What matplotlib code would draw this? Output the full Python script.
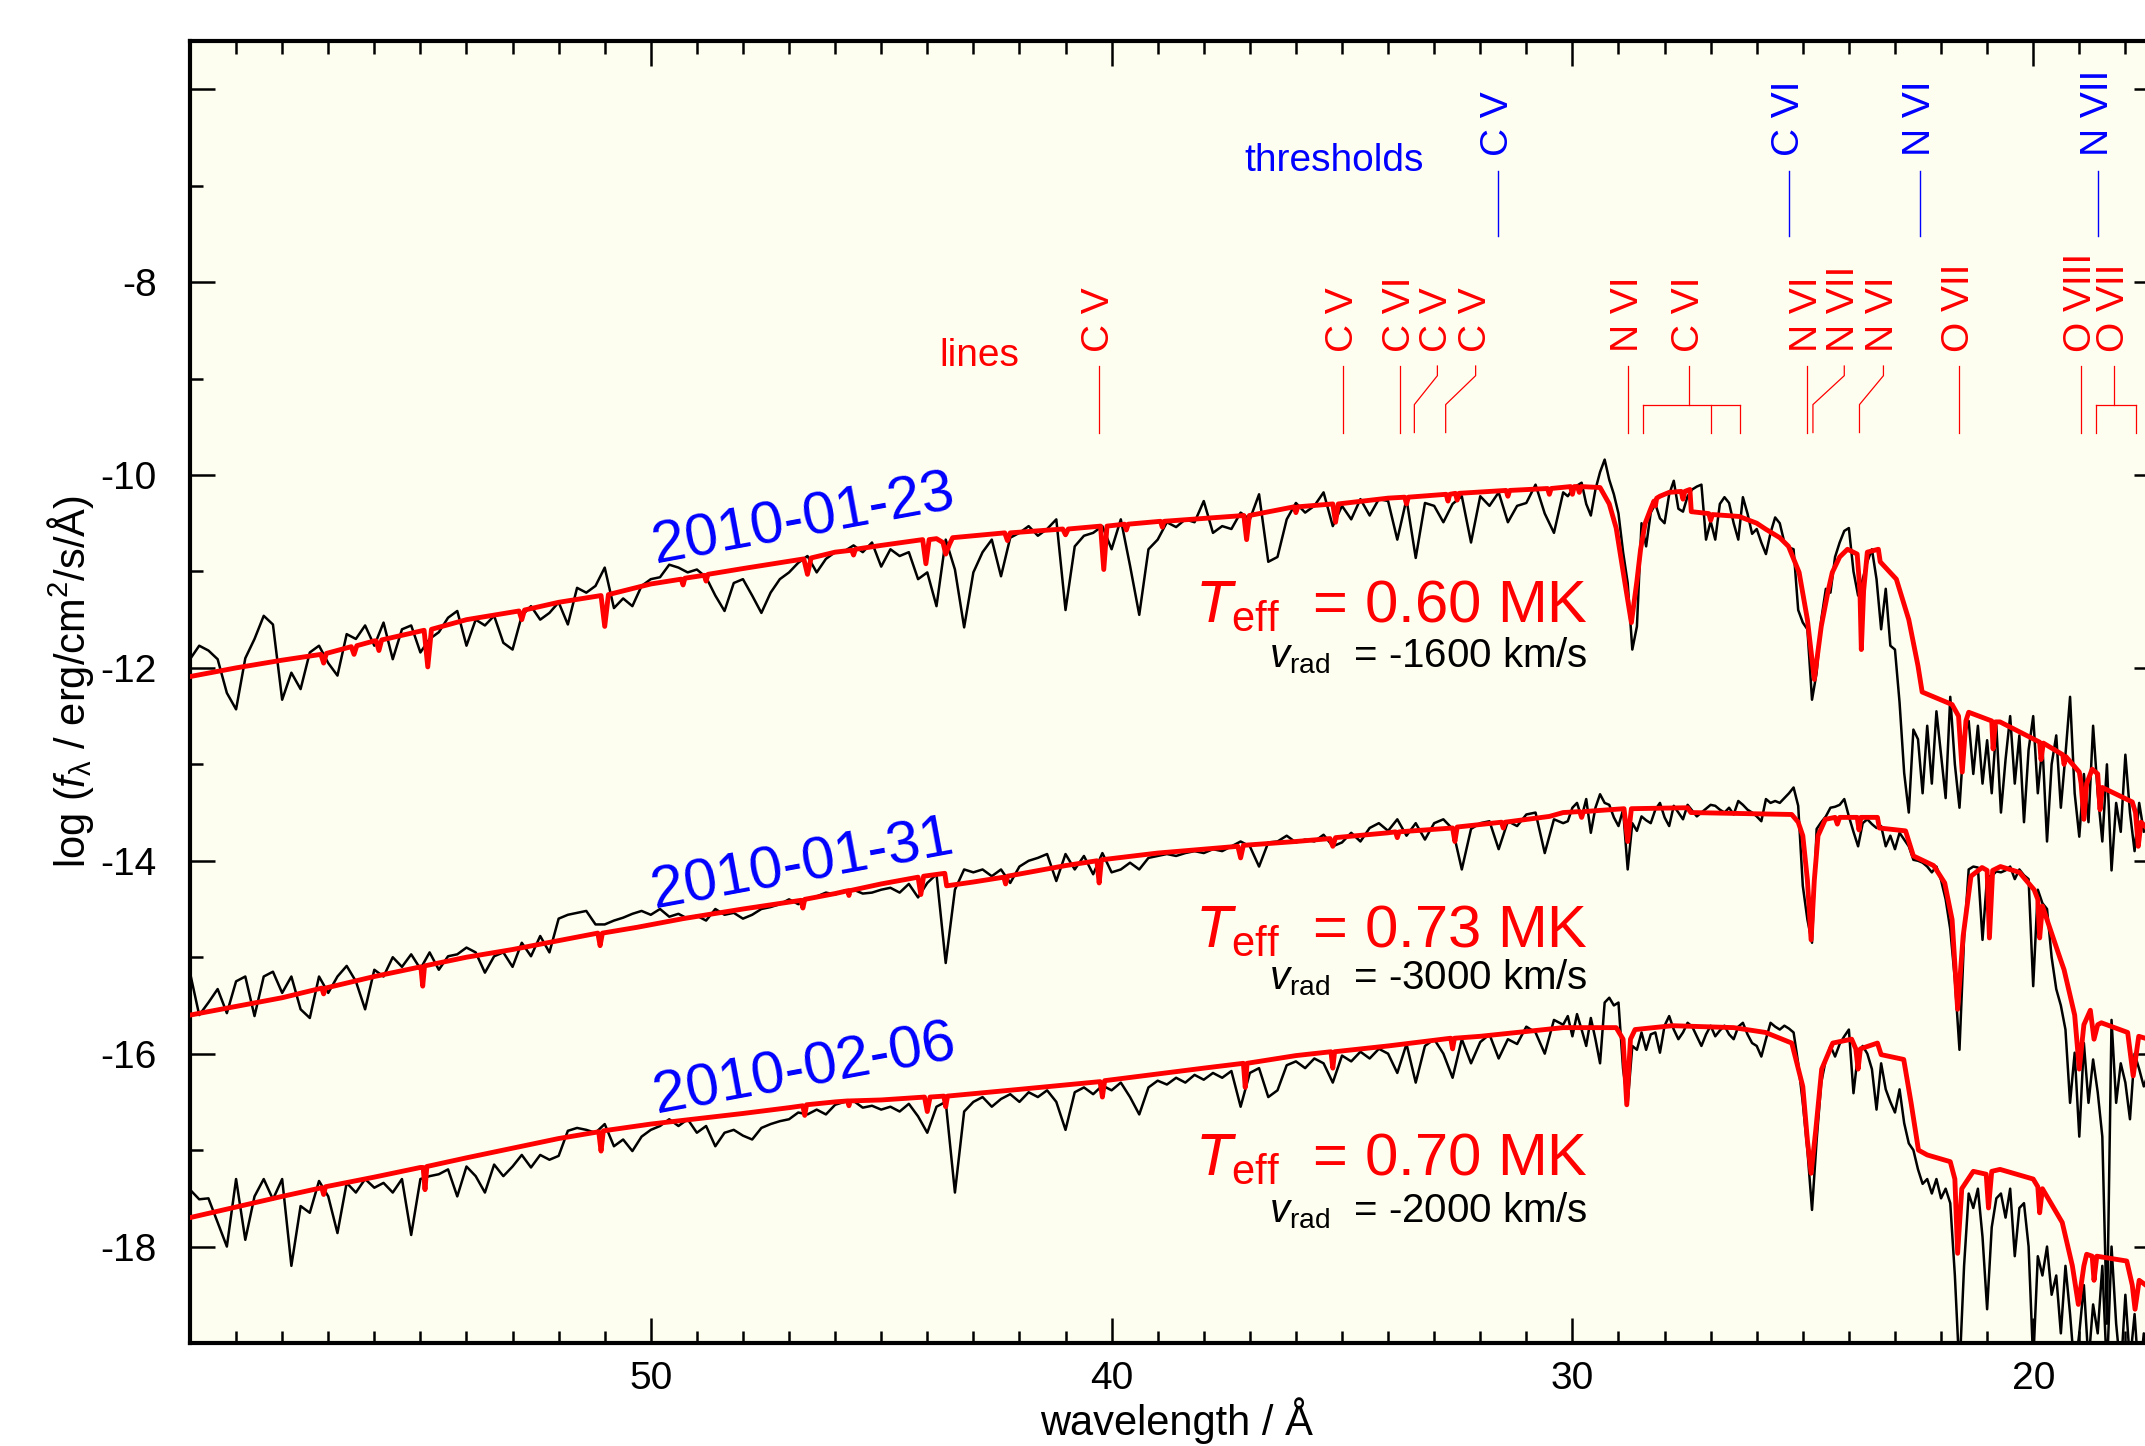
import numpy as np
import matplotlib
matplotlib.use("Agg")
import matplotlib.pyplot as plt
from matplotlib.ticker import MultipleLocator

# observed spectra, grid A: 60.0 -> 30.2 A (0.2 A steps), grid B: 30.1 -> 17.5 A (0.1 A steps)
obs1_a = [
    -11.91, -11.77, -11.82, -11.91, -12.26, -12.43, -11.9, -11.7, -11.46, -11.55,
    -12.33, -12.05, -12.22, -11.84, -11.77, -11.95, -12.08, -11.65, -11.7, -11.56,
    -11.77, -11.53, -11.91, -11.6, -11.56, -11.84, -11.7, -11.63, -11.48, -11.41,
    -11.77, -11.5, -11.56, -11.46, -11.74, -11.81, -11.46, -11.36, -11.5, -11.43,
    -11.32, -11.55, -11.17, -11.22, -11.15, -10.96, -11.38, -11.28, -11.36, -11.15,
    -11.08, -11.06, -10.93, -10.96, -11.01, -10.98, -11.06, -11.25, -11.41, -11.12,
    -11.08, -11.25, -11.43, -11.22, -11.08, -11.01, -10.91, -10.84, -11.01, -10.87,
    -10.8, -10.79, -10.73, -10.8, -10.7, -10.95, -10.77, -10.84, -10.8, -11.08,
    -11.01, -11.36, -10.67, -10.98, -11.58, -11.01, -10.8, -10.67, -11.05, -10.65,
    -10.6, -10.53, -10.63, -10.56, -10.46, -11.4, -10.74, -10.63, -10.6, -10.53,
    -10.77, -10.46, -10.94, -11.45, -10.77, -10.67, -10.49, -10.54, -10.46, -10.49,
    -10.27, -10.6, -10.53, -10.56, -10.39, -10.46, -10.2, -10.9, -10.85, -10.46,
    -10.29, -10.39, -10.32, -10.18, -10.53, -10.32, -10.46, -10.25, -10.42, -10.25,
    -10.27, -10.67, -10.25, -10.86, -10.29, -10.32, -10.49, -10.3, -10.22, -10.7,
    -10.22, -10.32, -10.18, -10.49, -10.32, -10.29, -10.1, -10.4, -10.6, -10.18,
]
obs1_b = [
    -10.22, -10.15, -10.11, -10.08, -10.3, -10.42, -10.15, -9.97, -9.84, -10.05,
    -10.2, -10.4, -10.8, -11.12, -11.81, -11.57, -10.5, -10.74, -10.39, -10.3,
    -10.45, -10.5, -10.2, -10.06, -10.35, -10.38, -10.22, -10.15, -10.12, -10.1,
    -10.67, -10.48, -10.67, -10.3, -10.23, -10.29, -10.5, -10.67, -10.23, -10.4,
    -10.61, -10.56, -10.7, -10.82, -10.6, -10.44, -10.5, -10.7, -10.75, -10.77,
    -11.4, -11.53, -11.6, -12.33, -12.05, -11.5, -11.18, -11.22, -10.85, -10.7,
    -10.58, -10.55, -11.0, -11.25, -11.08, -10.9, -10.77, -11.08, -11.6, -11.18,
    -11.77, -11.81, -12.36, -13.09, -13.5, -12.64, -12.74, -13.3, -12.6, -13.2,
    -12.45, -12.9, -13.35, -12.3, -13.0, -13.45, -12.7, -12.55, -13.1, -12.6,
    -13.2, -12.75, -13.3, -12.6, -13.5, -12.95, -12.5, -13.2, -12.7, -13.6,
    -12.85, -12.5, -13.3, -12.8, -13.8, -13.0, -12.7, -13.45, -12.9, -12.3,
    -13.3, -13.75, -13.1, -13.6, -12.6, -13.3, -13.8, -13.0, -14.1, -13.4,
    -13.7, -12.9, -13.5, -13.9, -13.4, -13.7, -13.5,
]
obs2_a = [
    -15.16, -15.6, -15.47, -15.33, -15.58, -15.25, -15.2, -15.61, -15.2, -15.15,
    -15.37, -15.2, -15.54, -15.63, -15.2, -15.37, -15.2, -15.09, -15.25, -15.54,
    -15.13, -15.2, -15.0, -15.1, -14.97, -15.12, -14.95, -15.13, -14.99, -14.97,
    -14.9, -14.95, -15.16, -14.99, -14.95, -15.1, -14.85, -14.99, -14.78, -14.95,
    -14.6, -14.56, -14.54, -14.52, -14.66, -14.66, -14.62, -14.59, -14.55, -14.52,
    -14.56, -14.5, -14.58, -14.55, -14.6, -14.57, -14.62, -14.5, -14.56, -14.54,
    -14.6, -14.56, -14.5, -14.48, -14.45, -14.4, -14.45, -14.4, -14.37, -14.33,
    -14.35, -14.31, -14.3, -14.34, -14.33, -14.3, -14.28, -14.33, -14.24, -14.38,
    -14.23, -14.14, -15.06, -14.3, -14.09, -14.12, -14.09, -14.16, -14.09, -14.23,
    -14.06, -14.0, -13.97, -13.93, -14.21, -13.93, -14.09, -13.95, -14.14, -13.92,
    -14.12, -14.09, -14.02, -14.09, -13.97, -13.95, -13.93, -13.95, -13.92, -13.9,
    -13.92, -13.88, -13.9, -13.85, -13.8, -13.85, -14.06, -13.81, -13.8, -13.74,
    -13.81, -13.78, -13.8, -13.73, -13.85, -13.81, -13.71, -13.8, -13.66, -13.61,
    -13.69, -13.57, -13.74, -13.61, -13.78, -13.61, -13.57, -13.67, -14.09, -13.67,
    -13.61, -13.59, -13.88, -13.59, -13.64, -13.52, -13.5, -13.92, -13.57, -13.61,
]
obs2_b = [
    -13.59, -13.45, -13.4, -13.55, -13.36, -13.71, -13.45, -13.31, -13.4, -13.42,
    -13.55, -13.64, -13.47, -14.09, -13.61, -13.69, -13.54, -13.58, -13.61, -13.47,
    -13.4, -13.55, -13.64, -13.43, -13.5, -13.57, -13.42, -13.48, -13.54, -13.5,
    -13.46, -13.42, -13.43, -13.47, -13.5, -13.45, -13.52, -13.38, -13.42, -13.47,
    -13.5, -13.54, -13.59, -13.36, -13.4, -13.38, -13.4, -13.35, -13.3, -13.24,
    -13.43, -14.26, -14.61, -14.85, -13.67, -13.6, -13.54, -13.45, -13.44, -13.42,
    -13.36, -13.54, -13.7, -13.85, -13.61, -13.57, -13.62, -13.66, -13.64, -13.85,
    -13.74, -13.88, -13.71, -13.78, -13.85, -13.99, -14.0, -14.02, -14.06, -14.12,
    -14.06, -14.2, -14.4, -14.71, -15.23, -15.96, -14.8, -14.09, -14.06, -14.07,
    -14.82, -14.16, -14.16, -14.11, -14.12, -14.1, -14.06, -14.19, -14.09, -14.15,
    -14.19, -15.3, -14.3, -14.44, -14.5, -15.0, -15.33, -15.5, -15.75, -16.51,
    -15.99, -16.86, -15.89, -16.51, -16.06, -16.4, -16.86, -18.8, -15.65, -16.51,
    -16.1, -16.3, -16.68, -16.0, -16.16, -16.34, -16.2,
]
obs3_a = [
    -17.41, -17.51, -17.5, -17.75, -18.0, -17.3, -17.93, -17.48, -17.3, -17.51,
    -17.3, -18.2, -17.58, -17.65, -17.32, -17.48, -17.86, -17.34, -17.44, -17.3,
    -17.39, -17.34, -17.44, -17.3, -17.88, -17.3, -17.27, -17.25, -17.2, -17.48,
    -17.17, -17.27, -17.44, -17.15, -17.27, -17.17, -17.05, -17.18, -17.05, -17.1,
    -17.06, -16.8, -16.77, -16.79, -16.82, -16.73, -16.96, -16.89, -17.01, -16.86,
    -16.79, -16.75, -16.68, -16.75, -16.68, -16.82, -16.75, -16.96, -16.82, -16.79,
    -16.85, -16.89, -16.77, -16.73, -16.7, -16.68, -16.61, -16.63, -16.58, -16.63,
    -16.53, -16.5, -16.49, -16.56, -16.54, -16.58, -16.55, -16.6, -16.52, -16.65,
    -16.82, -16.55, -16.5, -17.44, -16.6, -16.5, -16.45, -16.55, -16.47, -16.42,
    -16.5, -16.4, -16.45, -16.38, -16.5, -16.79, -16.4, -16.35, -16.42, -16.33,
    -16.38, -16.3, -16.45, -16.63, -16.35, -16.28, -16.32, -16.25, -16.3, -16.22,
    -16.27, -16.2, -16.25, -16.18, -16.55, -16.2, -16.15, -16.45, -16.38, -16.12,
    -16.08, -16.15, -16.05, -16.1, -16.3, -16.02, -16.08, -15.98, -16.05, -15.95,
    -16.0, -16.2, -15.9, -16.3, -15.92, -15.85, -16.0, -16.25, -15.85, -16.1,
    -15.88, -15.8, -16.05, -15.85, -15.9, -15.72, -15.78, -16.0, -15.65, -15.7,
]
obs3_b = [
    -15.61, -15.82, -15.59, -15.75, -15.92, -15.63, -15.85, -16.1, -15.47, -15.42,
    -15.5, -15.47, -16.16, -16.51, -15.92, -15.96, -15.78, -15.96, -15.8, -15.78,
    -15.99, -15.71, -15.61, -15.75, -15.85, -15.78, -15.68, -15.72, -15.82, -15.92,
    -15.8, -15.71, -15.82, -15.76, -15.71, -15.8, -15.85, -15.72, -15.68, -15.8,
    -15.89, -15.92, -16.03, -15.85, -15.68, -15.72, -15.75, -15.71, -15.74, -15.78,
    -16.1, -16.51, -17.0, -17.62, -16.9, -16.3, -16.06, -15.92, -16.03, -15.9,
    -15.82, -15.75, -16.41, -15.99, -15.92, -16.0, -16.16, -16.58, -16.1, -16.37,
    -16.5, -16.61, -16.37, -16.72, -16.93, -17.0, -17.2, -17.35, -17.3, -17.45,
    -17.3, -17.5, -17.4, -17.55, -18.3, -19.3, -18.2, -17.45, -17.6, -17.4,
    -17.9, -18.65, -17.8, -17.5, -17.45, -17.7, -17.4, -18.1, -17.6, -17.55,
    -18.0, -19.2, -18.1, -18.3, -18.0, -18.5, -18.3, -18.9, -18.2, -18.7,
    -19.3, -18.9, -18.4, -19.2, -18.6, -18.9, -18.2, -19.3, -18.0, -18.8,
    -19.3, -18.5, -19.2, -18.7, -19.4, -18.9, -19.2,
]

# model spectra (wavelength / log flux knots)
m1_wave = [60.0, 59.0, 58.0, 57.16, 57.1, 57.04, 56.5, 56.44, 56.38, 56.0, 55.96, 55.9, 55.84,
           54.92, 54.84, 54.76, 54.0, 52.86, 52.8, 52.74, 52.0, 51.08, 51.0, 50.92, 50.0,
           49.34, 49.3, 49.26, 48.84, 48.8, 48.76, 48.0, 46.68, 46.6, 46.52, 46.0, 45.64, 45.6,
           45.56, 45.0, 44.1, 44.03, 43.96, 43.8, 43.66, 43.6, 43.52, 43.45, 42.32, 42.26, 42.2,
           41.06, 41.0, 40.94, 40.24, 40.17, 40.1, 39.72, 39.68, 39.64, 38.94, 38.9, 38.86, 38.0,
           37.13, 37.07, 37.01, 36.04, 36.0, 35.96, 35.2, 35.14, 35.08, 34.0, 33.64, 33.6, 33.56,
           32.74, 32.7, 32.66, 32.54, 32.5, 32.46, 31.44, 31.4, 31.36, 30.54, 30.5, 30.46,
           30.04, 30.0, 29.96, 29.89, 29.85, 29.81, 29.4, 29.2, 29.05, 28.9, 28.72, 28.6, 28.52,
           28.42, 28.3, 28.23, 28.2, 28.17, 28.1, 27.9, 27.64, 27.6, 27.56, 27.45, 27.42, 27.04,
           27.0, 26.96, 26.38, 26.0, 25.81, 25.5, 25.31, 25.08, 24.9, 24.75, 24.6, 24.45, 24.36,
           24.2, 24.03, 23.82, 23.76, 23.73, 23.68, 23.6, 23.36, 23.32, 22.97, 22.7, 22.5, 22.41,
           21.76, 21.62, 21.54, 21.46, 21.4, 20.9, 20.87, 20.82, 20.72, 19.86, 19.83, 19.78,
           19.36, 19.33, 19.29, 19.0, 18.96, 18.9, 18.84, 18.72, 18.6, 18.55, 18.5, 17.85, 17.78,
           17.72, 17.66, 17.5]
m1_flux = [-12.09, -12.0, -11.92, -11.86, -11.95, -11.85, -11.78, -11.86, -11.77, -11.72, -11.72,
           -11.82, -11.71, -11.61, -11.99, -11.6, -11.5, -11.41, -11.5, -11.4, -11.32, -11.25,
           -11.57, -11.24, -11.13, -11.08, -11.14, -11.07, -11.04, -11.1, -11.03, -10.97, -10.87,
           -11.03, -10.86, -10.8, -10.78, -10.83, -10.77, -10.73, -10.67, -10.92, -10.67, -10.66,
           -10.7, -10.82, -10.72, -10.65, -10.6, -10.68, -10.6, -10.56, -10.62, -10.56, -10.53,
           -10.98, -10.53, -10.51, -10.57, -10.51, -10.48, -10.54, -10.48, -10.45, -10.42, -10.67,
           -10.42, -10.33, -10.39, -10.33, -10.3, -10.49, -10.3, -10.24, -10.23, -10.3, -10.23,
           -10.2, -10.27, -10.2, -10.19, -10.26, -10.19, -10.16, -10.22, -10.16, -10.14, -10.2,
           -10.14, -10.12, -10.2, -10.12, -10.12, -10.18, -10.12, -10.13, -10.3, -10.55, -11.0,
           -11.53, -11.1, -10.77, -10.5, -10.35, -10.27, -10.32, -10.24, -10.22, -10.18, -10.17,
           -10.25, -10.17, -10.15, -10.38, -10.4, -10.47, -10.41, -10.43, -10.5, -10.56, -10.65,
           -10.74, -11.01, -11.5, -12.12, -11.57, -11.2, -11.01, -10.85, -10.77, -10.82, -11.2,
           -11.81, -11.2, -10.8, -10.77, -10.9, -11.08, -11.5, -11.98, -12.25, -12.38, -12.5,
           -13.08, -12.55, -12.46, -12.55, -12.84, -12.56, -12.56, -12.77, -12.95, -12.78, -12.9,
           -13.0, -12.92, -13.08, -13.2, -13.57, -13.2, -13.05, -13.1, -13.47, -13.24, -13.39,
           -13.5, -13.85, -13.6, -13.68]

m2_wave = [60.0, 59.0, 58.0, 57.14, 57.1, 57.06, 56.0, 55.0, 54.99, 54.95, 54.91, 54.0, 53.0,
           52.24, 51.15, 51.1, 51.05, 50.3, 49.3, 48.0, 46.74, 46.7, 46.66, 46.0, 45.72, 45.7,
           45.68, 45.0, 44.2, 44.14, 44.08, 43.62, 43.58, 43.0, 42.34, 42.3, 42.26, 41.0, 40.32,
           40.27, 40.22, 39.0, 37.26, 37.2, 37.14, 36.0, 35.26, 35.2, 35.14, 34.0, 33.84, 33.8,
           33.76, 32.6, 32.55, 32.5, 31.54, 31.5, 31.46, 30.5, 30.2, 29.84, 29.8, 29.76, 28.88,
           28.8, 28.72, 27.5, 27.43, 25.24, 25.1, 25.0, 24.9, 24.82, 24.75, 24.67, 24.51, 24.3,
           24.25, 24.2, 23.82, 23.78, 23.74, 23.38, 23.34, 22.77, 22.6, 22.16, 21.92, 21.76,
           21.64, 21.52, 21.35, 21.11, 21.0, 20.95, 20.88, 20.71, 20.3, 19.98, 19.9, 19.86, 19.8,
           19.41, 19.33, 19.1, 19.0, 18.9, 18.76, 18.68, 18.6, 18.52, 17.95, 17.83, 17.71, 17.5]
m2_flux = [-15.6, -15.51, -15.42, -15.32, -15.38, -15.32, -15.2, -15.1, -15.1, -15.3, -15.09,
           -15.0, -14.92, -14.85, -14.75, -14.88, -14.75, -14.69, -14.6, -14.5, -14.41, -14.49,
           -14.4, -14.34, -14.31, -14.36, -14.31, -14.24, -14.17, -14.35, -14.16, -14.13, -14.26,
           -14.22, -14.17, -14.24, -14.16, -14.05, -14.0, -14.23, -13.99, -13.92, -13.85, -13.97,
           -13.84, -13.8, -13.77, -13.85, -13.76, -13.71, -13.7, -13.76, -13.7, -13.66, -13.8,
           -13.65, -13.6, -13.66, -13.6, -13.54, -13.5, -13.49, -13.55, -13.49, -13.46, -13.8,
           -13.46, -13.45, -13.5, -13.52, -13.6, -13.74, -14.2, -14.82, -14.2, -13.74, -13.57,
           -13.55, -13.62, -13.55, -13.55, -13.68, -13.55, -13.55, -13.66, -13.69, -13.95, -14.05,
           -14.23, -14.61, -15.54, -14.78, -14.16, -14.07, -14.1, -14.8, -14.1, -14.06, -14.12,
           -14.3, -14.4, -14.8, -14.47, -15.02, -15.13, -15.6, -16.16, -15.7, -15.55, -15.85,
           -15.7, -15.68, -15.78, -16.23, -15.82, -15.85]

m3_wave = [60.0, 58.0, 57.14, 57.1, 57.06, 56.0, 55.0, 54.94, 54.9, 54.86, 54.0, 52.0, 51.13,
           51.08, 51.03, 50.0, 48.0, 47.0, 46.7, 46.66, 46.62, 46.0, 45.72, 45.7, 45.68, 45.0,
           44.06, 44.0, 43.94, 43.64, 43.6, 43.56, 42.0, 40.25, 40.2, 40.15, 38.0, 37.14, 37.1,
           37.06, 36.0, 35.24, 35.2, 35.16, 34.0, 32.64, 32.6, 32.56, 32.0, 30.2, 29.05, 28.9,
           28.82, 28.74, 28.64, 27.83, 26.5, 25.81, 25.24, 25.0, 24.9, 24.82, 24.72, 24.59,
           24.35, 23.94, 23.85, 23.8, 23.75, 23.38, 23.3, 22.81, 22.65, 22.49, 22.3, 21.8, 21.7,
           21.64, 21.55, 21.3, 21.02, 20.97, 20.9, 20.72, 20.0, 19.9, 19.86, 19.8, 19.37, 19.15,
           19.02, 18.9, 18.84, 18.72, 18.68, 18.62, 17.97, 17.85, 17.79, 17.7, 17.5]
m3_flux = [-17.7, -17.48, -17.39, -17.46, -17.38, -17.28, -17.18, -17.18, -17.41, -17.17,
           -17.08, -16.88, -16.81, -17.01, -16.8, -16.73, -16.62, -16.56, -16.54, -16.64, -16.53,
           -16.5, -16.49, -16.54, -16.49, -16.48, -16.45, -16.6, -16.45, -16.44, -16.55, -16.44,
           -16.37, -16.29, -16.45, -16.28, -16.15, -16.1, -16.35, -16.1, -16.02, -15.98, -16.15,
           -15.98, -15.92, -15.84, -15.95, -15.84, -15.82, -15.73, -15.73, -15.85, -16.53, -15.85,
           -15.75, -15.71, -15.73, -15.78, -15.89, -16.34, -16.9, -17.24, -16.8, -16.16, -15.89,
           -15.85, -15.95, -16.16, -15.95, -15.89, -16.01, -16.06, -16.51, -17.0, -17.05, -17.12,
           -17.3, -18.07, -17.4, -17.22, -17.25, -17.6, -17.22, -17.2, -17.3, -17.38, -17.65,
           -17.4, -17.75, -18.2, -18.6, -18.2, -18.08, -18.1, -18.35, -18.1, -18.15, -18.4,
           -18.65, -18.35, -18.42]

dates = ["2010-01-23", "2010-01-31", "2010-02-06"]
teff = ["0.60", "0.73", "0.70"]
vrad = ["-1600", "-3000", "-2000"]

thr_ions = ["C V", "C VI", "N VI", "N VII"]
thr_wave = [31.62, 25.30, 22.46, 18.59]

line_ions = ["C V", "C V", "C VI", "C V", "C V", "N VI", "C VI", "N VI", "N VII", "N VI",
             "O VII", "O VIII", "O VII"]
line_label_wave = [40.27, 34.97, 33.74, 32.93, 32.10, 28.79, 27.48, 24.90, 24.10, 23.25,
                   21.60, 18.97, 18.25]
line_waves = [[40.27], [34.97], [33.74], [33.43], [32.75], [28.79], [28.47, 26.99, 26.36],
              [24.90], [24.78], [23.77], [21.60], [18.97], [18.63, 17.77]]

plt.rcParams["font.family"] = ["Liberation Sans", "DejaVu Sans"]
plt.rcParams["mathtext.fontset"] = "custom"
plt.rcParams["mathtext.rm"] = "Liberation Sans"
plt.rcParams["mathtext.it"] = "Liberation Sans:italic"
plt.rcParams["mathtext.bf"] = "Liberation Sans:bold"
plt.rcParams["axes.unicode_minus"] = False

RED = "#ff0000"
BLUE = "#0000ff"

fig = plt.figure(figsize=(21.45, 14.46), dpi=100)
ax = fig.add_axes([190 / 2145, 103 / 1446, 1969 / 2145, 1302 / 1446])
ax.set_facecolor("#fefef0")

obs = [(obs1_a, obs1_b), (obs2_a, obs2_b), (obs3_a, obs3_b)]
models = [(m1_wave, m1_flux), (m2_wave, m2_flux), (m3_wave, m3_flux)]

for (fa, fb), (mw, mf) in zip(obs, models):
    w = np.concatenate([np.linspace(60.0, 30.2, len(fa)), np.linspace(30.1, 17.5, len(fb))])
    f = np.concatenate([fa, fb])
    ax.plot(w, f, color="black", lw=1.8, zorder=2)
    ax.plot(mw, mf, color=RED, lw=3.5, zorder=3, solid_joinstyle="round")

ax.set_xlim(60, 17.27)
ax.set_ylim(-19, -5.5)

ax.set_xticks([50, 40, 30, 20])
ax.xaxis.set_minor_locator(MultipleLocator(1))
yt = list(range(-18, -5, 2))
ax.set_yticks(yt)
ax.set_yticklabels([str(t) if t != -6 else "" for t in yt])
ax.yaxis.set_minor_locator(MultipleLocator(1))
ax.tick_params(which="both", direction="in", top=True, right=True, labelsize=28, width=1.8)
ax.tick_params(which="major", length=18)
ax.tick_params(which="minor", length=9)
ax.tick_params(axis="y", pad=24)
ax.tick_params(axis="x", pad=13)
for s in ax.spines.values():
    s.set_linewidth(3)

fig.text(1176 / 2145, 11 / 1446, "wavelength / Å", ha="center", va="baseline", fontsize=30)
fig.text(71 / 2145, 1 - 682 / 1446, r"log ($f_{\mathrm{\lambda}}$ / erg/cm$^2$/s/Å)",
         rotation=90, ha="center", va="center", fontsize=30)

# ionization thresholds
for ion, w in zip(thr_ions, thr_wave):
    ax.plot([w, w], [-6.85, -7.52], color=BLUE, lw=1.0)
    ax.text(w, -6.69, ion, rotation=90, ha="center", va="bottom", color=BLUE, fontsize=28)
ax.text(33.22, -6.85, "thresholds", ha="right", va="baseline", color=BLUE, fontsize=28)

# line identifications
v_top, v_knee, v_br, v_bot = -8.87, -8.97, -9.27, -9.56
for ion, wl, ws in zip(line_ions, line_label_wave, line_waves):
    ax.text(wl, -8.72, ion, rotation=90, ha="center", va="bottom", color=RED, fontsize=28)
    if len(ws) == 1 and abs(ws[0] - wl) < 0.02:
        ax.plot([wl, wl], [v_top, v_bot], color=RED, lw=0.9)
    elif len(ws) == 1:
        ax.plot([wl, wl, ws[0], ws[0]], [v_top, v_knee, v_br, v_bot], color=RED, lw=0.9)
    else:
        ax.plot([wl, wl], [v_top, v_br], color=RED, lw=0.9)
        ax.plot([max(ws), min(ws)], [v_br, v_br], color=RED, lw=0.9)
        for x in ws:
            ax.plot([x, x], [v_br, v_bot], color=RED, lw=0.9)
ax.text(42.0, -8.87, "lines", ha="right", va="baseline", color=RED, fontsize=28)

# labels for each epoch
date_pos = [(46.68, -10.47), (46.72, -14.05), (46.66, -16.17)]
teff_y = [-11.52, -14.89, -17.26]
vrad_y = [-12.0, -15.33, -17.75]
for d, (dx, dy), t, ty, v, vy in zip(dates, date_pos, teff, teff_y, vrad, vrad_y):
    ax.text(dx, dy, d, rotation=10.5, rotation_mode="anchor", ha="center", va="center",
            color=BLUE, fontsize=43)
    ax.text(29.67, ty, r"$T_{\mathrm{eff}}$  = " + t + " MK", ha="right", va="baseline",
            color=RED, fontsize=43)
    ax.text(29.67, vy, r"$v_{\mathrm{rad}}$  = " + v + " km/s", ha="right", va="baseline",
            color="black", fontsize=29)

fig.savefig("out.png", dpi=100, facecolor="white")
